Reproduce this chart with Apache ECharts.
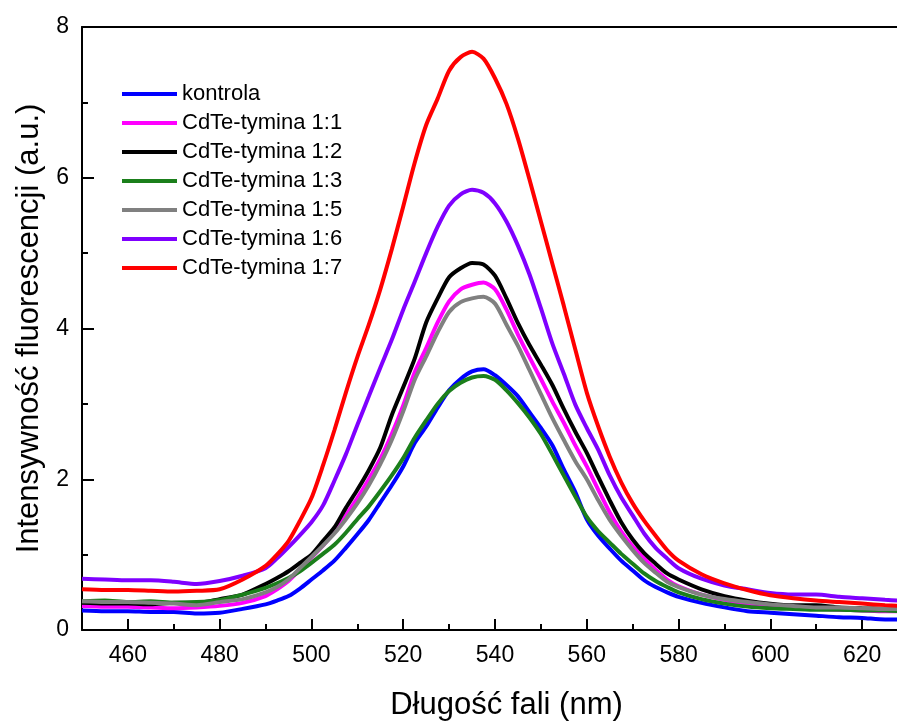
<!DOCTYPE html>
<html>
<head>
<meta charset="utf-8">
<script src="https://cdn.jsdelivr.net/npm/echarts@6/dist/echarts.min.js"></script>
<style>
html,body{margin:0;padding:0;background:#fff;}
#chart{width:897px;height:726px;}
</style>
</head>
<body>
<div id="chart"></div>
<script>
// ---- data ----
const wavelengths = [450,455,460,465,470,475,480,485,
  490,492.5,495,497.5,500,502.5,505,507.5,510,512.5,515,517.5,520,522.5,525,527.5,530,532.5,535,537.5,540,542.5,545,547.5,550,552.5,555,557.5,560,562.5,565,567.5,570,572.5,575,577.5,580,
  585,590,595,600,605,610,615,620,625,628];

const kontrola = [0.26,0.25,0.25,0.24,0.24,0.22,0.23,0.28,
  0.34,0.39,0.45,0.55,0.67,0.79,0.92,1.09,1.27,1.46,1.69,1.92,2.17,2.48,2.70,2.95,3.18,3.33,3.43,3.46,3.38,3.25,3.10,2.89,2.68,2.45,2.13,1.83,1.47,1.25,1.08,0.92,0.79,0.66,0.57,0.50,0.44,
  0.36,0.30,0.25,0.23,0.21,0.19,0.17,0.16,0.14,0.14];

const tymina11 = [0.32,0.31,0.31,0.30,0.29,0.30,0.32,0.36,
  0.45,0.54,0.65,0.80,0.96,1.12,1.30,1.52,1.75,2.00,2.27,2.60,2.98,3.42,3.74,4.08,4.36,4.52,4.58,4.61,4.52,4.25,3.92,3.62,3.33,3.03,2.75,2.45,2.17,1.86,1.56,1.31,1.11,0.95,0.80,0.67,0.58,
  0.47,0.40,0.34,0.31,0.29,0.28,0.27,0.26,0.25,0.25];

const tymina12 = [0.36,0.35,0.35,0.34,0.36,0.36,0.41,0.47,
  0.61,0.69,0.78,0.89,1.00,1.18,1.36,1.62,1.86,2.12,2.42,2.85,3.22,3.60,4.08,4.40,4.68,4.80,4.87,4.85,4.70,4.40,4.07,3.78,3.52,3.25,2.93,2.63,2.35,2.03,1.72,1.43,1.20,1.02,0.88,0.75,0.67,
  0.54,0.45,0.39,0.35,0.33,0.33,0.30,0.29,0.28,0.27];

const tymina13 = [0.38,0.39,0.37,0.38,0.36,0.37,0.40,0.47,
  0.56,0.62,0.69,0.78,0.89,1.01,1.13,1.29,1.47,1.64,1.84,2.05,2.28,2.55,2.78,3.00,3.17,3.28,3.35,3.37,3.32,3.18,3.01,2.82,2.60,2.33,2.05,1.77,1.50,1.31,1.16,1.01,0.88,0.75,0.65,0.57,0.50,
  0.41,0.35,0.31,0.29,0.28,0.27,0.27,0.26,0.26,0.25];

const tymina15 = [0.38,0.37,0.37,0.36,0.35,0.33,0.37,0.41,
  0.50,0.57,0.67,0.82,0.97,1.12,1.28,1.47,1.68,1.92,2.20,2.52,2.90,3.32,3.63,3.95,4.22,4.35,4.40,4.42,4.33,4.05,3.77,3.45,3.13,2.81,2.52,2.24,2.00,1.72,1.46,1.25,1.06,0.89,0.76,0.64,0.57,
  0.47,0.41,0.37,0.34,0.32,0.30,0.30,0.29,0.28,0.28];

const tymina16 = [0.68,0.67,0.66,0.66,0.64,0.61,0.65,0.72,
  0.82,0.95,1.10,1.26,1.43,1.65,1.98,2.33,2.72,3.10,3.48,3.85,4.25,4.62,5.00,5.35,5.63,5.78,5.84,5.80,5.66,5.42,5.10,4.72,4.27,3.80,3.40,2.99,2.68,2.39,2.05,1.76,1.52,1.28,1.09,0.95,0.82,
  0.68,0.59,0.54,0.49,0.47,0.47,0.44,0.42,0.40,0.39];

const tymina17 = [0.54,0.53,0.53,0.52,0.51,0.52,0.54,0.67,
  0.85,1.00,1.18,1.45,1.75,2.18,2.65,3.15,3.62,4.05,4.52,5.05,5.62,6.20,6.70,7.05,7.42,7.60,7.67,7.58,7.32,6.98,6.52,5.98,5.42,4.86,4.30,3.72,3.15,2.70,2.30,1.96,1.68,1.45,1.25,1.06,0.92,
  0.74,0.62,0.53,0.46,0.42,0.39,0.37,0.35,0.33,0.32];

const seriesNames = ['kontrola','CdTe-tymina 1:1','CdTe-tymina 1:2','CdTe-tymina 1:3','CdTe-tymina 1:5','CdTe-tymina 1:6','CdTe-tymina 1:7'];
const seriesValues = [kontrola, tymina11, tymina12, tymina13, tymina15, tymina16, tymina17];
const seriesColors = ['#0000FF','#FF00FF','#000000','#1B7F1B','#808080','#7F00FF','#FF0000'];

const xMajorTicks = [460,480,500,520,540,560,580,600,620];
const xMinorTicks = [470,490,510,530,550,570,590,610];
const xMin = 450, xMax = 627.6;
const yMin = 0, yMax = 8, yStep = 2;

const xTitle = 'Długość fali (nm)';
const yTitle = 'Intensywność fluorescencji (a.u.)';

// ---- chart ----
const FONT = '"Liberation Sans", Arial, sans-serif';
const chart = echarts.init(document.getElementById('chart'), null, {renderer: 'canvas'});

const series = seriesNames.map((name, i) => ({
  name: name,
  type: 'line',
  xAxisIndex: 0,
  yAxisIndex: 0,
  showSymbol: false,
  symbol: 'none',
  smooth: 0.25,
  animation: false,
  color: seriesColors[i],
  lineStyle: {width: 4, color: seriesColors[i]},
  data: wavelengths.map((w, j) => [w, seriesValues[i][j]])
}));

const option = {
  backgroundColor: '#ffffff',
  animation: false,
  textStyle: {fontFamily: FONT},
  grid: {left: 82, right: 0, top: 27, bottom: 93, containLabel: false},
  legend: {
    orient: 'vertical',
    left: 117,
    top: 78,
    icon: 'rect',
    itemWidth: 55,
    itemHeight: 4,
    itemGap: 7,
    data: seriesNames,
    textStyle: {fontFamily: FONT, fontSize: 22, color: '#000', lineHeight: 22}
  },
  xAxis: [
    {
      type: 'value', position: 'bottom', min: xMin, max: xMax,
      axisLine: {show: true, lineStyle: {color: '#000', width: 2}},
      axisTick: {show: true, inside: true, length: 11, lineStyle: {color: '#000', width: 2}, customValues: xMajorTicks},
      axisLabel: {show: true, customValues: xMajorTicks, fontFamily: FONT, fontSize: 23, color: '#000', margin: 14},
      splitLine: {show: false},
      name: xTitle, nameLocation: 'middle', nameGap: 60,
      nameTextStyle: {fontFamily: FONT, fontSize: 31, color: '#000', padding: [0, 0, 0, 34]}
    },
    {
      type: 'value', position: 'bottom', min: xMin, max: xMax,
      axisLine: {show: false},
      axisTick: {show: true, inside: true, length: 6, lineStyle: {color: '#000', width: 2}, customValues: xMinorTicks},
      axisLabel: {show: false},
      splitLine: {show: false}
    },
    {
      type: 'value', position: 'top', min: xMin, max: xMax,
      axisLine: {show: true, lineStyle: {color: '#000', width: 2}},
      axisTick: {show: false},
      axisLabel: {show: false},
      splitLine: {show: false}
    }
  ],
  yAxis: [
    {
      type: 'value', position: 'left', min: yMin, max: yMax, interval: yStep,
      axisLine: {show: true, lineStyle: {color: '#000', width: 2}},
      axisTick: {show: true, inside: true, length: 12, lineStyle: {color: '#000', width: 2}},
      minorTick: {show: true, splitNumber: 2, length: 6, lineStyle: {color: '#000', width: 2}},
      axisLabel: {fontFamily: FONT, fontSize: 23, color: '#000', margin: 13},
      splitLine: {show: false},
      minorSplitLine: {show: false},
      name: yTitle, nameLocation: 'middle', nameGap: 34,
      nameTextStyle: {fontFamily: FONT, fontSize: 31, color: '#000'}
    }
  ],
  series: series
};
chart.setOption(option);
</script>
</body>
</html>
